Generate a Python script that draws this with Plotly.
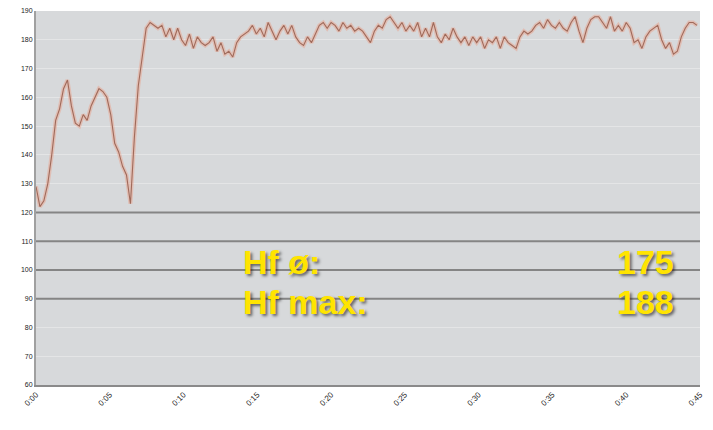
import plotly.graph_objects as go

# --- data -------------------------------------------------------------
TIME_S = list(range(0, 2700, 16))  # sample times (seconds), 16 s interval
HR = [
    129, 122, 124, 130, 140, 152, 156, 163, 166, 157,
    151, 150, 154, 152, 157, 160, 163, 162, 160, 154,
    144, 141, 136, 133, 123, 146, 164, 174, 184, 186,
    185, 184, 185, 181, 184, 180, 184, 180, 178, 182,
    177, 181, 179, 178, 179, 181, 176, 179, 175, 176,
    174, 179, 181, 182, 183, 185, 182, 184, 181, 186,
    183, 180, 183, 185, 182, 185, 181, 179, 178, 181,
    179, 182, 185, 186, 184, 186, 185, 183, 186, 184,
    185, 183, 184, 183, 181, 179, 183, 185, 184, 187,
    188, 186, 184, 186, 183, 185, 183, 186, 181, 184,
    181, 186, 181, 179, 182, 180, 184, 181, 179, 181,
    178, 181, 179, 181, 177, 180, 179, 181, 177, 181,
    179, 178, 177, 181, 183, 182, 183, 185, 186, 184,
    187, 185, 184, 186, 184, 183, 186, 188, 183, 179,
    184, 187, 188, 188, 186, 184, 188, 183, 185, 183,
    186, 184, 179, 180, 177, 181, 183, 184, 185, 180,
    177, 179, 175, 176, 181, 184, 186, 186, 185,
]
TIME_S = TIME_S[:len(HR)]

X_TICKS = [0, 300, 600, 900, 1200, 1500, 1800, 2100, 2400, 2700]
X_TICK_LABELS = ["0:00", "0:05", "0:10", "0:15", "0:20", "0:25", "0:30", "0:35", "0:40", "0:45"]
Y_TICKS = [60, 70, 80, 90, 100, 110, 120, 130, 140, 150, 160, 170, 180, 190]
GUIDE_LEVELS = [90, 100, 110, 120]

STAT_LABELS = ["Hf ø:", "Hf max:"]
STAT_VALUES = ["175", "188"]
STAT_LEVELS = [102.6, 88.8]

# --- figure -------------------------------------------------------------
fig = go.Figure()

# soft halo under the line
fig.add_trace(go.Scatter(
    x=TIME_S, y=HR, mode="lines",
    line=dict(color="rgba(240,140,110,0.35)", width=4),
    hoverinfo="skip", showlegend=False,
))
fig.add_trace(go.Scatter(
    x=TIME_S, y=HR, mode="lines",
    line=dict(color="#a06a5a", width=1.1),
    showlegend=False,
))

for lvl in GUIDE_LEVELS:
    fig.add_shape(type="line", xref="paper", yref="y",
                  x0=0, x1=1, y0=lvl, y1=lvl,
                  line=dict(color="#858585", width=2), layer="above")

shadow = "2px 2px 3px rgba(0,0,0,0.55)"
for lab, val, lvl in zip(STAT_LABELS, STAT_VALUES, STAT_LEVELS):
    fig.add_annotation(x=0.309, xref="paper", y=lvl, yref="y",
                       text=lab, showarrow=False, xanchor="left", yanchor="middle",
                       font=dict(family="Liberation Sans, Arial", size=34, color="#ffe400",
                                 weight="bold", shadow=shadow))
    fig.add_annotation(x=0.964, xref="paper", y=lvl, yref="y",
                       text=val, showarrow=False, xanchor="right", yanchor="middle",
                       font=dict(family="Liberation Sans, Arial", size=34, color="#ffe400",
                                 weight="bold", shadow=shadow))

fig.update_layout(
    width=713, height=430,
    margin=dict(l=36, r=13, t=11, b=45, autoexpand=False),
    paper_bgcolor="white",
    plot_bgcolor="#d7d9db",
    showlegend=False,
    font=dict(family="Liberation Sans, Arial", size=7, color="#333333"),
)
fig.update_xaxes(
    range=[0, 2700], tickvals=X_TICKS, ticktext=X_TICK_LABELS,
    tickangle=-45, showgrid=False, zeroline=False, automargin=False,
    showline=True, linecolor="#8a8a8a", linewidth=2,
    tickfont=dict(size=8, color="#222222"), ticklabeloverflow="allow",
)
fig.update_yaxes(
    range=[60, 190], tickvals=Y_TICKS, automargin=False,
    showgrid=True, gridcolor="#e4e5e6", gridwidth=1, zeroline=False,
    showline=True, linecolor="#a0a0a0", linewidth=2,
    tickfont=dict(size=7, color="#222222"), ticklabeloverflow="allow",
)

# remove the browser's default 8px page margin so the figure fills the window
fig.write_html(
    "out.html",
    config={"displayModeBar": False},
    post_script="document.body.style.margin='0';document.body.style.overflow='hidden';",
)
